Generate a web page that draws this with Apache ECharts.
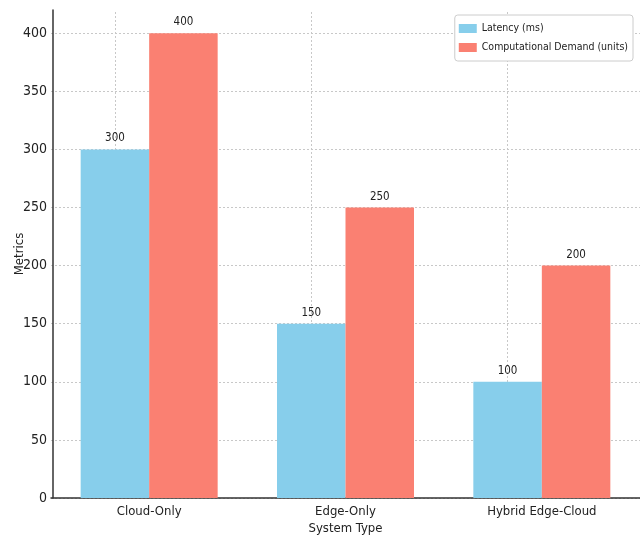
<!DOCTYPE html>
<html>
<head>
<meta charset="utf-8">
<script src="https://cdn.jsdelivr.net/npm/echarts@6/dist/echarts.min.js"></script>
<style>
  html, body { margin: 0; padding: 0; background: #fff; }
  #chart { width: 640px; height: 540px; }
</style>
</head>
<body>
<div id="chart"></div>
<script>
const categories = ['Cloud-Only', 'Edge-Only', 'Hybrid Edge-Cloud'];
const latency = [300, 150, 100];
const demand = [400, 250, 200];
const seriesNames = ['Latency (ms)', 'Computational Demand (units)'];

const FONT = "'DejaVu Sans Condensed', 'DejaVu Sans', sans-serif";
const TXT = '#222';
const GRID_COLOR = '#c8c8c8';

const chart = echarts.init(document.getElementById('chart'), null, { renderer: 'canvas' });

const valueLabel = {
  show: true,
  position: 'top',
  distance: 5,
  color: TXT,
  fontFamily: FONT,
  fontSize: 11.5
};

chart.setOption({
  animation: false,
  textStyle: { fontFamily: FONT },
  grid: { left: 51, right: 0, top: 10, bottom: 42, containLabel: false, outerBoundsMode: 'none' },
  legend: {
    orient: 'vertical',
    right: 7,
    top: 15,
    itemWidth: 18,
    itemHeight: 9,
    itemGap: 8,
    padding: [8, 5, 8, 4],
    borderColor: '#ccc',
    borderWidth: 1,
    borderRadius: 3,
    backgroundColor: '#fff',
    icon: 'rect',
    textStyle: { fontFamily: FONT, fontSize: 10.5, color: TXT },
    data: seriesNames
  },
  xAxis: {
    type: 'category',
    data: categories,
    name: 'System Type',
    nameLocation: 'middle',
    nameGap: 24,
    nameMoveOverlap: false,
    nameTextStyle: { fontFamily: FONT, fontSize: 13, color: TXT },
    axisLine: { lineStyle: { color: '#333', width: 1.5 } },
    axisTick: { show: false },
    axisLabel: { fontFamily: FONT, fontSize: 13, color: TXT, margin: 7 },
    splitLine: { show: false }
  },
  yAxis: {
    type: 'value',
    min: 0,
    max: 420,
    interval: 50,
    offset: -2,
    name: 'Metrics',
    nameLocation: 'middle',
    nameGap: 27,
    nameMoveOverlap: false,
    nameTextStyle: { fontFamily: FONT, fontSize: 13, color: TXT },
    axisLine: { show: true, lineStyle: { color: '#333', width: 1.5 } },
    axisTick: { show: false },
    axisLabel: { fontFamily: FONT, fontSize: 14, color: TXT, margin: 6, showMaxLabel: false },
    splitLine: {
      show: true,
      showMaxLine: false,
      lineStyle: { color: GRID_COLOR, type: [2, 2], width: 1 }
    }
  },
  series: [
    {
      name: seriesNames[0],
      type: 'bar',
      data: latency,
      barWidth: 68.5,
      barGap: '0%',
      itemStyle: { color: '#87CEEB' },
      label: valueLabel,
      z: 2,
      markLine: {
        silent: true,
        z: 1,
        symbol: ['none', 'none'],
        label: { show: false },
        lineStyle: { color: GRID_COLOR, type: [2, 2], width: 1 },
        data: categories.map(c => ({ xAxis: c }))
      }
    },
    {
      name: seriesNames[1],
      type: 'bar',
      data: demand,
      barWidth: 68.5,
      barGap: '0%',
      itemStyle: { color: '#FA8072' },
      label: valueLabel,
      z: 2
    }
  ]
});
</script>
</body>
</html>
